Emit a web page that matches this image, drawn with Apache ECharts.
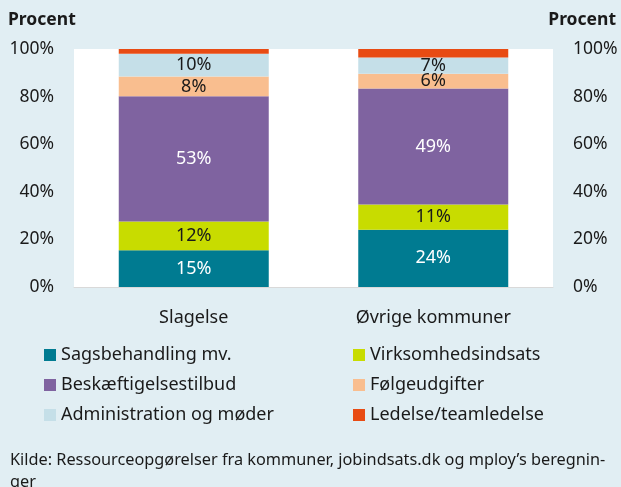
<!DOCTYPE html>
<html>
<head>
<meta charset="utf-8">
<script src="https://cdn.jsdelivr.net/npm/echarts@6/dist/echarts.min.js"></script>
<style>
	html, body { margin: 0; padding: 0; background: #e1eef3; }
	#chart { width: 621px; height: 487px; }
</style>
</head>
<body>
<div id="chart"></div>
<script>
// kategorier
var categories = ['Slagelse', 'Øvrige kommuner']
// andele i procent (aflæst)
var sagsbehandling = [15.4, 24.1]
var virksomhedsindsats = [12.1, 10.6]
var beskaeftigelsestilbud = [52.6, 48.7]
var foelgeudgifter = [8.3, 6.2]
var administration = [9.6, 6.8]
var ledelse = [2.0, 3.6]
var yTicks = [0, 20, 40, 60, 80, 100]

var FONT = 'Noto Sans'

function bar(name, data, color, labelColor, showLabel) {
	return {
		name: name,
		type: 'bar',
		stack: 'total',
		barWidth: 150,
		data: data,
		itemStyle: { color: color },
		label: {
			show: showLabel,
			position: 'inside',
			color: labelColor,
			fontFamily: FONT,
			fontSize: 18,
			formatter: function(p) {
				return Math.round(p.value) + '%'
			}
		}
	}
}

var legendText = { fontFamily: FONT, fontSize: 18, color: '#1a1a1a' }
var axisText = { formatter: '{value}%', color: '#1a1a1a', fontFamily: FONT, fontSize: 17.5, margin: 20 }

var option = {
	backgroundColor: '#e1eef3',
	animation: false,
	grid: {
		left: 74,
		right: 68,
		top: 49,
		bottom: 200,
		show: true,
		backgroundColor: '#ffffff',
		borderWidth: 0
	},
	xAxis: {
		type: 'category',
		data: categories,
		axisTick: { show: false },
		axisLine: { show: true, lineStyle: { color: '#d9d9d9', width: 1 } },
		axisLabel: { color: '#1a1a1a', fontFamily: FONT, fontSize: 18, margin: 22 }
	},
	yAxis: [
		{
			type: 'value',
			min: yTicks[0],
			max: yTicks[yTicks.length - 1],
			interval: 20,
			splitLine: { show: false },
			axisLine: { show: false },
			axisTick: { show: false },
			axisLabel: axisText
		},
		{
			type: 'value',
			position: 'right',
			min: yTicks[0],
			max: yTicks[yTicks.length - 1],
			interval: 20,
			splitLine: { show: false },
			axisLine: { show: false },
			axisTick: { show: false },
			axisLabel: axisText
		}
	],
	legend: [
		{
			orient: 'vertical',
			left: 44,
			top: 346,
			padding: 0,
			itemWidth: 12,
			itemHeight: 12,
			itemGap: 12,
			icon: 'rect',
			textStyle: legendText,
			data: ['Sagsbehandling mv.', 'Beskæftigelsestilbud', 'Administration og møder']
		},
		{
			orient: 'vertical',
			left: 353,
			top: 346,
			padding: 0,
			itemWidth: 12,
			itemHeight: 12,
			itemGap: 12,
			icon: 'rect',
			textStyle: legendText,
			data: ['Virksomhedsindsats', 'Følgeudgifter', 'Ledelse/teamledelse']
		}
	],
	graphic: [
		{
			type: 'text',
			left: 8,
			top: 11,
			style: { text: 'Procent', font: 'bold 17.5px ' + FONT, fill: '#1a1a1a' }
		},
		{
			type: 'text',
			right: 5,
			top: 11,
			style: { text: 'Procent', font: 'bold 17.5px ' + FONT, fill: '#1a1a1a' }
		},
		{
			type: 'text',
			left: 10,
			top: 449,
			style: {
				text: 'Kilde: Ressourceopgørelser fra kommuner, jobindsats.dk og mploy’s beregnin-\nger',
				font: '16.3px ' + FONT,
				lineHeight: 22,
				fill: '#1a1a1a'
			}
		}
	],
	series: [
		bar('Sagsbehandling mv.', sagsbehandling, '#007b91', '#ffffff', true),
		bar('Virksomhedsindsats', virksomhedsindsats, '#c8dc00', '#1a1a1a', true),
		bar('Beskæftigelsestilbud', beskaeftigelsestilbud, '#7f63a0', '#ffffff', true),
		bar('Følgeudgifter', foelgeudgifter, '#f9be8f', '#1a1a1a', true),
		bar('Administration og møder', administration, '#c5dfe8', '#1a1a1a', true),
		bar('Ledelse/teamledelse', ledelse, '#e84b13', '#1a1a1a', false)
	]
}

var chart = echarts.init(document.getElementById('chart'))
chart.setOption(option)
</script>
</body>
</html>
